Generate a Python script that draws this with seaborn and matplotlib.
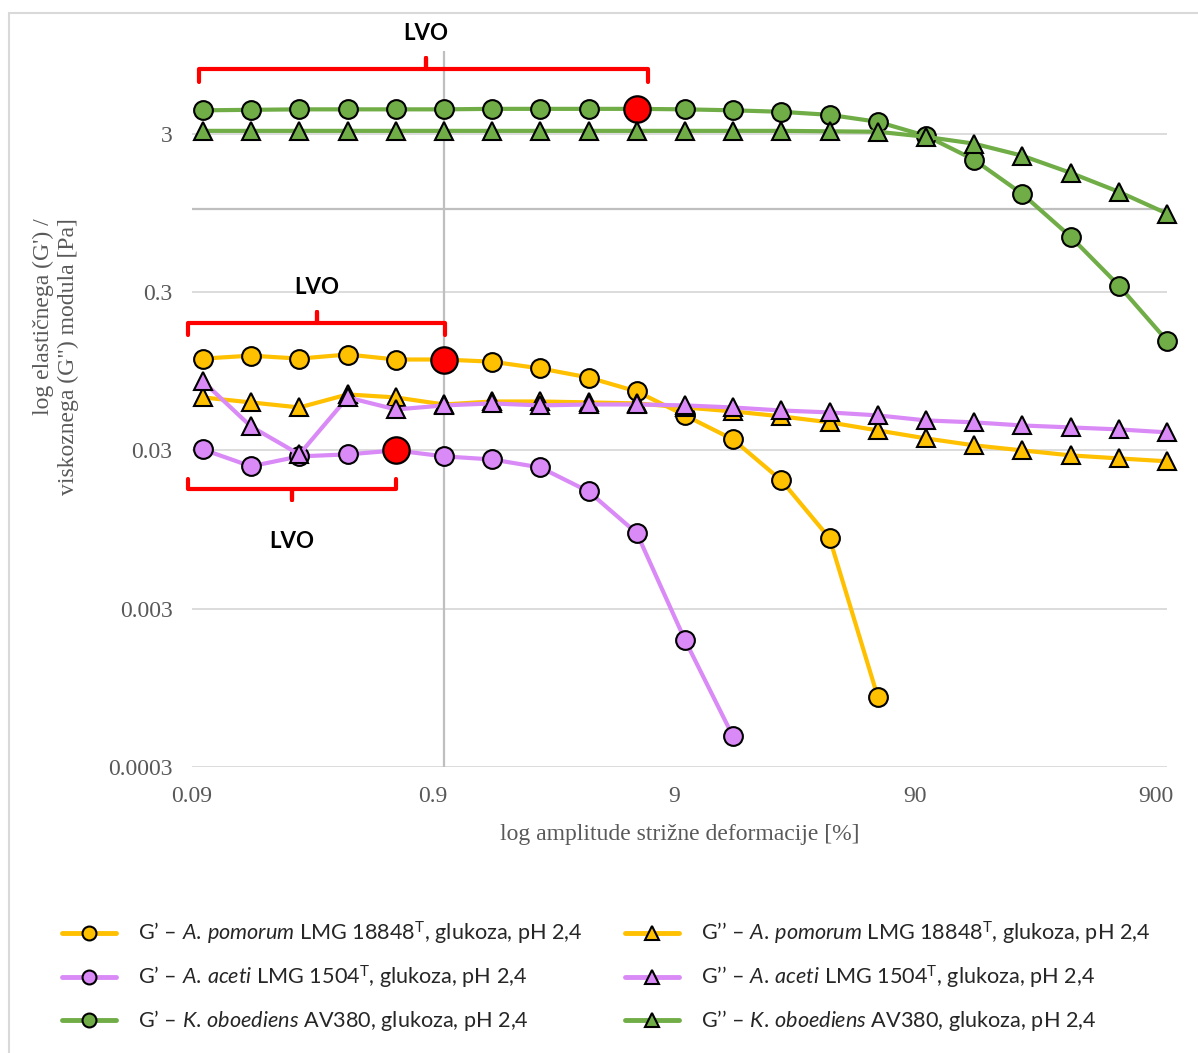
import matplotlib
matplotlib.use("Agg")
import matplotlib.pyplot as plt
from matplotlib.lines import Line2D
from matplotlib.patches import Rectangle
import seaborn as sns

# ── Data ──────────────────────────────────────────────────────────────────────
STRAIN = [0.1, 0.158, 0.251, 0.398, 0.631, 1.0, 1.58, 2.51, 3.98, 6.31, 10.0,
          15.8, 25.1, 39.8, 63.1, 100, 158, 251, 398, 631, 1000]

# A. pomorum LMG 18848T
AP_G1 = [0.114, 0.119, 0.114, 0.121, 0.1125, 0.1125, 0.109, 0.0988, 0.0866,
         0.0707, 0.0499, 0.0352, 0.0194, 0.00836, 0.00083]
AP_G2 = [0.0648, 0.0603, 0.056, 0.0677, 0.0648, 0.0585, 0.0611, 0.0611, 0.0603,
         0.0594, 0.056, 0.0529, 0.0492, 0.0451, 0.0401, 0.0357, 0.0323, 0.030,
         0.0279, 0.0267, 0.0256]
# A. aceti LMG 1504T
AA_G1 = [0.0304, 0.0238, 0.0275, 0.0283, 0.0300, 0.0275, 0.0263, 0.0234,
         0.0165, 0.00899, 0.0019, 0.00047]
AA_G2 = [0.0818, 0.0425, 0.0283, 0.0648, 0.0544, 0.0577, 0.0594, 0.0577, 0.0585,
         0.0585, 0.0577, 0.056, 0.0536, 0.0521, 0.0499, 0.0464, 0.0451, 0.0431,
         0.0419, 0.0407, 0.039]
# K. oboediens AV380
KO_G1 = [4.22, 4.25, 4.28, 4.28, 4.28, 4.28, 4.31, 4.31, 4.31, 4.31, 4.28, 4.22,
         4.13, 3.95, 3.57, 2.91, 2.06, 1.25, 0.672, 0.33, 0.148]
KO_G2 = [3.13, 3.13, 3.13, 3.13, 3.13, 3.13, 3.13, 3.13, 3.13, 3.13, 3.13, 3.13,
         3.13, 3.11, 3.09, 2.87, 2.60, 2.18, 1.70, 1.29, 0.94]

# index of the end of the linear viscoelastic region (red point) for G'
LVO_AP, LVO_AA, LVO_KO = 5, 4, 9

X_TICKS = [0.09, 0.9, 9, 90, 900]
X_TICK_LABELS = ["0.09", "0.9", "9", "90", "900"]
Y_TICKS = [0.0003, 0.003, 0.03, 0.3, 3]
Y_TICK_LABELS = ["0.0003", "0.003", "0.03", "0.3", "3"]

YELLOW = "#FFC000"
PURPLE = "#D98AF6"
GREEN = "#70AD47"
GREY_TXT = "#595959"

LABELS = [
    r"G’ – $\it{A.}$$\,$$\it{pomorum}$ LMG 18848$^{\rm T}$, glukoza, pH 2,4",
    r"G’’ – $\it{A.}$$\,$$\it{pomorum}$ LMG 18848$^{\rm T}$, glukoza, pH 2,4",
    r"G’ – $\it{A.}$$\,$$\it{aceti}$ LMG 1504$^{\rm T}$, glukoza, pH 2,4",
    r"G’’ – $\it{A.}$$\,$$\it{aceti}$ LMG 1504$^{\rm T}$, glukoza, pH 2,4",
    r"G’ – $\it{K.}$$\,$$\it{oboediens}$ AV380, glukoza, pH 2,4",
    r"G’’ – $\it{K.}$$\,$$\it{oboediens}$ AV380, glukoza, pH 2,4",
]

# ── Style ─────────────────────────────────────────────────────────────────────
sns.set_theme(style="white")
plt.rcParams.update({
    "font.family": ["Liberation Serif", "DejaVu Serif"],
    "mathtext.fontset": "custom",
    "mathtext.rm": "Lato",
    "mathtext.it": "Lato:italic",
    "mathtext.bf": "Lato:bold",
})

fig = plt.figure(figsize=(11.98, 10.53), dpi=100)
ax = fig.add_axes([192 / 1198, 1 - 767 / 1053, 975 / 1198, 716 / 1053])
ax.set_xscale("log")
ax.set_yscale("log")

series = [
    (AP_G1, YELLOW, "o", LVO_AP),
    (AP_G2, YELLOW, "^", None),
    (AA_G1, PURPLE, "o", LVO_AA),
    (AA_G2, PURPLE, "^", None),
    (KO_G1, GREEN, "o", LVO_KO),
    (KO_G2, GREEN, "^", None),
]

for k, (vals, color, mk, lvo) in enumerate(series):
    z = 3 + k
    sns.lineplot(x=STRAIN[:len(vals)], y=vals, ax=ax, color=color, linewidth=3,
                 marker=mk, markersize=13.5, markeredgecolor="black",
                 markeredgewidth=1.5, sort=False, estimator=None, legend=False,
                 zorder=z, clip_on=False)
    if lvo is not None:
        ax.plot(STRAIN[lvo], vals[lvo], "o", ms=19, mfc="#FF0000", mec="black",
                mew=1.6, zorder=z + 0.5)

ax.set_xlim(0.09, 1000)
ax.set_ylim(0.0003, 10)
ax.set_xticks(X_TICKS)
ax.set_xticklabels(X_TICK_LABELS)
ax.set_yticks(Y_TICKS)
ax.set_yticklabels(Y_TICK_LABELS)
ax.minorticks_off()
ax.tick_params(length=0, labelsize=17, labelcolor=GREY_TXT, pad=14)
ax.yaxis.grid(True, color="#D9D9D9", linewidth=1.3)
ax.xaxis.grid(False)
ax.set_axisbelow(True)
for sp in ax.spines.values():
    sp.set_visible(False)
# axes cross at 1 (Excel default for log axes)
ax.axhline(1, color="#BFBFBF", linewidth=1.6, zorder=1)
ax.axvline(1, color="#BFBFBF", linewidth=1.6, zorder=1)

ax.set_xlabel("log amplitude strižne deformacije [%]", fontsize=17,
              color=GREY_TXT, labelpad=12)
fig.text(56 / 1198, 1 - 357 / 1053,
         "log elastičnega (G') /\nviskoznega (G\") modula [Pa]",
         rotation=90, ha="center", va="center", multialignment="right",
         fontsize=17, color=GREY_TXT)


# ── LVO brackets ──────────────────────────────────────────────────────────────
def px(xp, yp):
    return (xp - 192) / 975, 1 - (yp - 51) / 716


def bracket(x0, x1, xm, yb, yend, ytip, label_y):
    pts = [px(x0, yend), px(x0, yb), px(xm, yb), px(xm, ytip), px(xm, yb),
           px(x1, yb), px(x1, yend)]
    ax.plot([p[0] for p in pts], [p[1] for p in pts], color="#FF0000", lw=3,
            transform=ax.transAxes, clip_on=False, zorder=20,
            solid_joinstyle="round", solid_capstyle="round")
    lx, ly = px(xm, label_y)
    ax.text(lx, ly, "LVO", transform=ax.transAxes, ha="center", va="center",
            fontsize=16, fontweight="bold", family="Lato", color="black")


bracket(199, 648, 426, 69, 82, 58, 33)
bracket(188, 445, 317, 323, 335, 312, 287)
bracket(188, 396, 292, 489, 479, 500, 542)

# ── Legend ────────────────────────────────────────────────────────────────────
handles = [Line2D([], [], color=c, lw=3.5, marker=m, ms=10, mec="black", mew=1.5)
           for _, c, m, _ in series]
leg_kw = dict(frameon=False, handlelength=2.5, handletextpad=1.0,
              labelspacing=0.78, borderpad=0, borderaxespad=0, loc="upper left",
              prop={"family": "Lato", "size": 15.6})
fig.legend(handles[0::2], LABELS[0::2], bbox_to_anchor=(62 / 1198, 1 - 920 / 1053),
           **leg_kw)
fig.legend(handles[1::2], LABELS[1::2], bbox_to_anchor=(625 / 1198, 1 - 920 / 1053),
           **leg_kw)

# outer chart border
fig.patches.append(Rectangle((9 / 1198, -0.05), 1.2, 1.05 - 13 / 1053,
                             transform=fig.transFigure, fill=False,
                             edgecolor="#D9D9D9", linewidth=1.5))

fig.savefig("out.png", dpi=100, facecolor="white")
